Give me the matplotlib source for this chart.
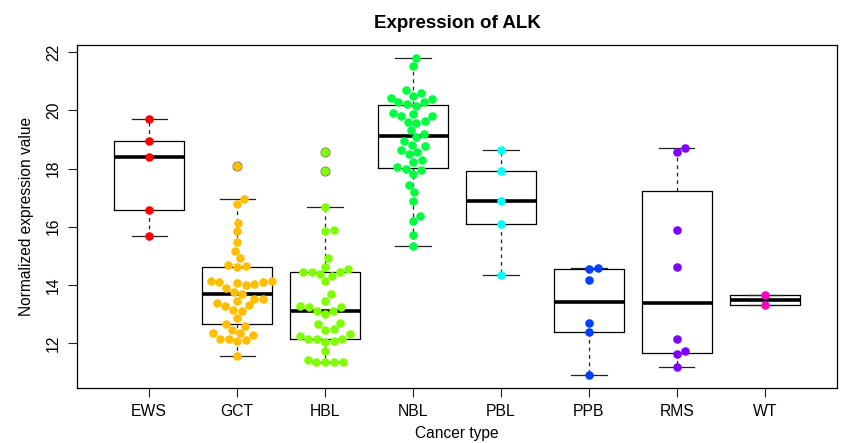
import matplotlib
matplotlib.use("Agg")
import matplotlib.pyplot as plt
import numpy as np

plt.rcParams['font.family'] = ['Liberation Sans', 'DejaVu Sans']

# values (normalized ALK expression)
groups = ["EWS", "GCT", "HBL", "NBL", "PBL", "PPB", "RMS", "WT"]
ews = [19.70, 18.93, 18.39, 16.57, 15.68]
gct = [18.09, 16.95, 16.78, 16.14, 15.84, 15.49, 15.18, 14.92, 14.69, 14.63,
       14.65, 14.10, 14.10, 14.05, 13.98, 14.03, 14.13, 14.13, 13.89, 13.77,
       13.70, 13.53, 13.53, 13.46, 13.37, 13.29, 13.15, 13.11, 13.26, 12.86,
       12.65, 12.60, 12.46, 12.35, 12.15, 12.15, 12.06, 12.09, 12.26, 12.34,
       11.54]
hbl = [18.58, 17.90, 16.66, 15.84, 15.90, 14.92, 14.63, 14.44, 14.44, 14.37,
       14.32, 14.44, 14.54, 14.12, 13.68, 13.46, 13.28, 13.24, 13.10, 13.00,
       13.10, 13.25, 12.69, 12.65, 12.46, 12.48, 12.25, 12.15, 12.08, 12.03,
       12.14, 12.15, 12.31, 11.71, 11.43, 11.36, 11.36, 11.36, 11.36]
nbl = [21.81, 21.53, 20.70, 20.51, 20.61, 20.44, 20.40, 20.21, 20.16, 20.28,
       20.30, 19.79, 19.87, 19.92, 19.82, 19.55, 19.59, 19.64, 19.31, 19.18,
       18.95, 19.07, 18.81, 18.58, 18.49, 18.64, 18.76, 18.22, 18.30, 18.05,
       17.98, 17.81, 17.96, 17.44, 17.19, 16.89, 16.21, 16.38, 15.70, 15.35]
pbl = [18.63, 17.90, 16.87, 16.09, 14.35]
ppb = [14.54, 14.58, 14.15, 12.69, 12.38, 10.89]
rms = [18.58, 18.69, 15.87, 14.63, 12.15, 11.63, 11.71, 11.19]
wt = [13.65, 13.29]
data = [ews, gct, hbl, nbl, pbl, ppb, rms, wt]

# R rainbow(8)
colors = ["#FF0000", "#FFBF00", "#80FF00", "#00FF40",
          "#00FFFF", "#0040FF", "#8000FF", "#FF00BF"]


def fivenum(v):
    x = np.sort(v)
    n = len(x)
    n4 = np.floor((n + 3) / 2) / 2
    d = np.array([1, n4, (n + 1) / 2, n + 1 - n4, n]) - 1
    return 0.5 * (x[np.floor(d).astype(int)] + x[np.ceil(d).astype(int)])


def box_stats(v):
    v = np.asarray(v)
    _, q1, med, q3, _ = fivenum(v)
    iqr = q3 - q1
    lo_lim, hi_lim = q1 - 1.5 * iqr, q3 + 1.5 * iqr
    inside = v[(v >= lo_lim) & (v <= hi_lim)]
    return dict(med=med, q1=q1, q3=q3, whislo=inside.min(), whishi=inside.max(),
                fliers=v[(v < lo_lim) | (v > hi_lim)])


def swarm(vals, ppy, d):
    # beeswarm "swarm" placement, ascending priority, offsets in pixels
    ys = np.asarray(vals) * ppy
    xs = np.zeros(len(ys))
    placed = []
    for i in np.argsort(ys, kind="stable"):
        cands = [0.0]
        for j in placed:
            dy = ys[i] - ys[j]
            if abs(dy) < d:
                off = np.sqrt(d * d - dy * dy)
                cands += [xs[j] + off, xs[j] - off]
        best = np.inf
        for c in cands:
            ok = all((c - xs[j]) ** 2 + (ys[i] - ys[j]) ** 2 >= d * d * 0.999
                     for j in placed)
            if ok and abs(c) < abs(best):
                best = c
        xs[i] = best
        placed.append(i)
    return xs


fig = plt.figure(figsize=(8.41, 4.43), dpi=100)
ax = fig.add_axes([77 / 841, 1 - 388 / 443, 760 / 841, 343 / 443])

allv = np.concatenate(data)
span = allv.max() - allv.min()
ax.set_ylim(allv.min() - 0.04 * span, allv.max() + 0.04 * span)
ax.set_xlim(0.5 - 0.32, len(groups) + 0.5 + 0.32)

pos = np.arange(1, len(groups) + 1)
stats = [box_stats(v) for v in data]
ax.bxp(stats, positions=pos, widths=0.8, capwidths=0.4,
       boxprops=dict(color="black", lw=0.9),
       whiskerprops=dict(color="#222222", lw=0.9, linestyle=(0, (3, 3))),
       capprops=dict(color="#222222", lw=0.9),
       medianprops=dict(color="black", lw=2.6, solid_capstyle="butt"),
       flierprops=dict(marker="o", markerfacecolor="none",
                       markeredgecolor="#555555", markersize=6.4,
                       markeredgewidth=0.7),
       zorder=2)

bb = ax.get_window_extent()
ppx = bb.width / (ax.get_xlim()[1] - ax.get_xlim()[0])
ppy = bb.height / (ax.get_ylim()[1] - ax.get_ylim()[0])
for k, v in enumerate(data):
    dx = swarm(v, ppy, 8.8)
    ax.scatter(pos[k] + dx / ppx, v, s=38, color=colors[k], linewidths=0,
               zorder=3)

ax.set_xticks(pos)
ax.set_xticklabels(groups)
ax.set_yticks([12, 14, 16, 18, 20, 22])
ax.tick_params(axis="both", length=6.5, width=0.8, labelsize=11.3,
               color="#222222")
ax.tick_params(axis="x", pad=5)
ax.tick_params(axis="y", pad=5, labelrotation=90)
for lab in ax.get_yticklabels():
    lab.set_va("center")
for sp in ax.spines.values():
    sp.set_linewidth(0.9)

ax.set_title("Expression of ALK", fontweight="bold", fontsize=13.5, pad=12)
ax.set_xlabel("Cancer type", fontsize=11.2, labelpad=5)
ax.set_ylabel("Normalized expression value", fontsize=11.2, labelpad=9)

fig.savefig("out.png", dpi=100)
